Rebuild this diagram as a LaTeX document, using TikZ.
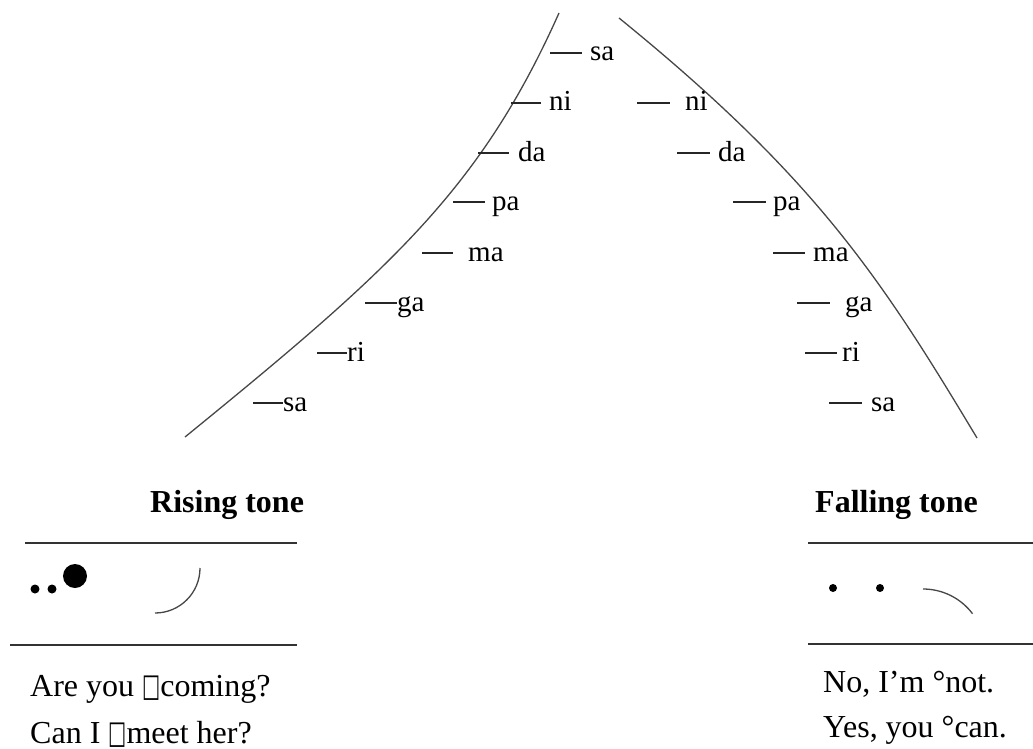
\documentclass[tikz,border=0pt]{standalone}
\usepackage{fontspec}
\setmainfont{Liberation Serif}
\newfontfamily\boxfont{DejaVu Sans}
\usetikzlibrary{positioning}

\begin{document}
\begin{tikzpicture}[x=1pt,y=-1pt,
  curve/.style={draw=black!72,line width=1.3pt},
  tick/.style={draw=black!85,line width=1.4pt},
  rule/.style={draw=black!80,line width=1.8pt},
  note/.style={anchor=base west,inner sep=0pt,font=\fontsize{29}{34}\selectfont},
  line/.style={anchor=base west,inner sep=0pt,font=\fontsize{32}{38}\selectfont},
  head/.style={anchor=base west,inner sep=0pt,font=\bfseries\fontsize{32}{38}\selectfont},
  dot/.style={fill=black,draw=none}
]
\useasboundingbox (0,0) rectangle (1033,749);

% rising curve and its notes
\draw[curve] (185,437) .. controls (390,270) and (480,190) .. (559,13);
\draw[tick] (550,53) -- (582,53);  \node[note] (lsatop) at (590,61) {sa};
\draw[tick] (511,103) -- (541,103); \node[note] (lni) at (549,111) {ni};
\draw[tick] (478,153) -- (509,153); \node[note] (lda) at (518,161) {da};
\draw[tick] (453,202) -- (485,202); \node[note] (lpa) at (492,210) {pa};
\draw[tick] (422,253) -- (453,253); \node[note] (lma) at (468,261) {ma};
\draw[tick] (365,303) -- (397,303); \node[note] (lga) at (397,311) {ga};
\draw[tick] (317,353) -- (347,353); \node[note] (lri) at (347,361) {ri};
\draw[tick] (253,403) -- (283,403); \node[note] (lsa) at (283,411) {sa};

% falling curve and its notes
\draw[curve] (619,18) .. controls (816,178) and (881,278) .. (977,438);
\draw[tick] (637,103) -- (670,103); \node[note] (rni) at (685,111) {ni};
\draw[tick] (677,153) -- (710,153); \node[note] (rda) at (718,161) {da};
\draw[tick] (733,202) -- (766,202); \node[note] (rpa) at (773,210) {pa};
\draw[tick] (773,253) -- (805,253); \node[note] (rma) at (813,261) {ma};
\draw[tick] (797,303) -- (830,303); \node[note] (rga) at (845,311) {ga};
\draw[tick] (805,353) -- (837,353); \node[note] (rri) at (842,361) {ri};
\draw[tick] (829,403) -- (862,403); \node[note] (rsa) at (871,411) {sa};

% rising tone box
\node[head] (rising) at (150,512) {Rising tone};
\draw[rule] (25,543) -- (297,543);
\draw[rule] (10,645) -- (297,645);
\fill[dot] (35,589) circle (4.5);
\fill[dot] (52,589) circle (4.5);
\fill[dot] (75,576) circle (12);
\draw[curve] (155,613) arc[start angle=90,end angle=0,radius=45];
\node[line] (ask1) at (30,696) {Are you {\boxfont\scalebox{0.6}[1.0]{□}}coming?};
\node[line] (ask2) at (30,743) {Can I {\boxfont\scalebox{0.6}[1.0]{□}}meet her?};

% falling tone box
\node[head] (falling) at (815,512) {Falling tone};
\draw[rule] (808,543) -- (1033,543);
\draw[rule] (808,644) -- (1033,644);
\fill[dot] (833,588) circle (4);
\fill[dot] (880,588) circle (4);
\draw[curve] (923,589) arc[start angle=-90,end angle=-37,radius=62];
\node[line] (say1) at (823,692) {No, I’m °not.};
\node[line] (say2) at (823,737) {Yes, you °can.};
\end{tikzpicture}
\end{document}
